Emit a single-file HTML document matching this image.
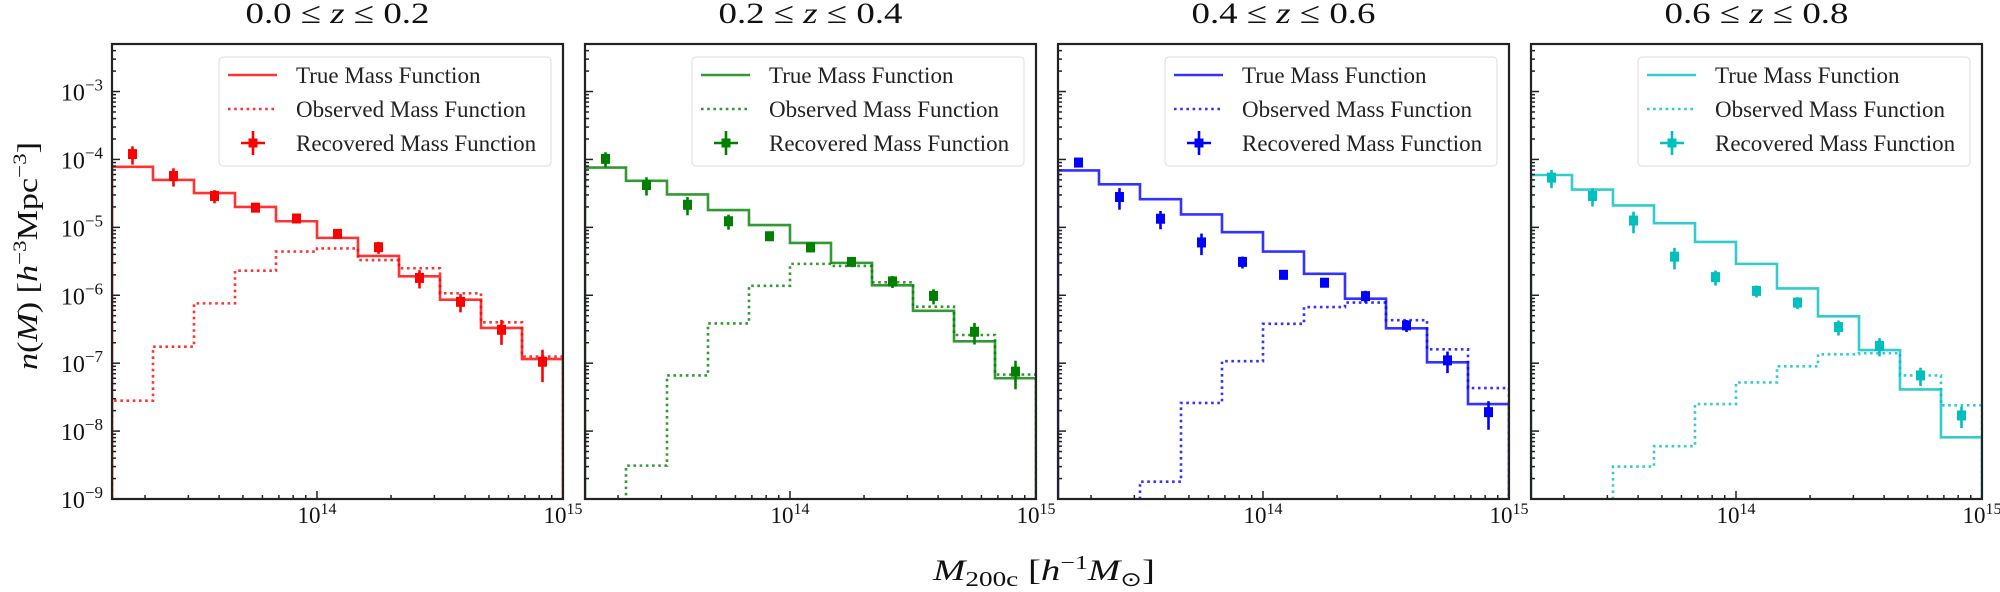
<!DOCTYPE html>
<html><head><meta charset="utf-8"><style>
html,body{margin:0;padding:0;background:#fff;}
svg{display:block;font-family:"Liberation Serif",serif;}
</style></head><body>
<svg id="chart" width="2000" height="592" viewBox="0 0 2000 592" xmlns="http://www.w3.org/2000/svg">
<text x="37" y="256" transform="rotate(-90 37 256)" text-anchor="middle" font-size="28" textLength="228" lengthAdjust="spacingAndGlyphs" fill="#111"><tspan font-style="italic">n</tspan>(<tspan font-style="italic">M</tspan>)   [<tspan font-style="italic">h</tspan><tspan font-size="19" dy="-11">−3</tspan><tspan dy="11">Mpc</tspan><tspan font-size="19" dy="-11">−3</tspan><tspan dy="11">]</tspan></text>
<text x="1044" y="580" text-anchor="middle" font-size="30" fill="#111" textLength="222" lengthAdjust="spacingAndGlyphs"><tspan font-style="italic">M</tspan><tspan font-size="21" dy="6">200c</tspan><tspan dy="-6">   [</tspan><tspan font-style="italic">h</tspan><tspan font-size="20" dy="-11">−1</tspan><tspan font-style="italic" dy="11">M</tspan><tspan font-size="20" dy="6">⊙</tspan><tspan dy="-6">]</tspan></text>
</svg>
<script>
// ----- data -----
const panelTitles = ["0.0 ≤ z ≤ 0.2","0.2 ≤ z ≤ 0.4","0.4 ≤ z ≤ 0.6","0.6 ≤ z ≤ 0.8"];
const panelColors = ["#ff0000","#008000","#0000ff","#00bfbf"];
const binEdgesLog = [13.1667,13.3333,13.5,13.6667,13.8333,14.0,14.1667,14.3333,14.5,14.6667,14.8333,15.0];
const trueZ1 = [7.8e-5,5e-5,3.2e-5,2e-5,1.23e-5,7e-6,3.8e-6,1.9e-6,8.6e-7,3.3e-7,1.15e-7];
const obsZ1  = [2.8e-8,1.75e-7,7.6e-7,2.3e-6,4.4e-6,4.9e-6,3.3e-6,2.5e-6,1.07e-6,4e-7,1.25e-7];
const recZ1  = [1.2e-4,5.7e-5,2.9e-5,1.95e-5,1.35e-5,8e-6,5.1e-6,1.8e-6,8e-7,3.1e-7,1.05e-7];
const errZ1  = [0.3,0.3,0.22,0.15,0.15,0.15,0.2,0.3,0.3,0.4,0.5];
const trueZ2 = [7.6e-5,4.85e-5,3.05e-5,1.8e-5,1.08e-5,5.9e-6,3e-6,1.4e-6,5.9e-7,2.1e-7,6e-8];
const obsZ2  = [0,3.1e-9,6.6e-8,3.85e-7,1.38e-6,2.9e-6,2.7e-6,1.55e-6,6.8e-7,2.6e-7,6.8e-8];
const recZ2  = [1.02e-4,4.2e-5,2.15e-5,1.23e-5,7.4e-6,5.06e-6,3.1e-6,1.6e-6,9.8e-7,2.9e-7,7.5e-8];
const errZ2  = [0.25,0.3,0.3,0.25,0.15,0.12,0.12,0.2,0.25,0.35,0.45];
const trueZ3 = [6.9e-5,4.3e-5,2.6e-5,1.55e-5,8.5e-6,4.4e-6,2.07e-6,8.9e-7,3.26e-7,1.03e-7,2.5e-8];
const obsZ3  = [0,0,1.8e-9,2.6e-8,1.07e-7,3.8e-7,6.7e-7,7.8e-7,4.3e-7,1.6e-7,4.3e-8];
const recZ3  = [9e-5,2.8e-5,1.34e-5,6e-6,3.1e-6,2e-6,1.53e-6,9.7e-7,3.6e-7,1.1e-7,1.9e-8];
const errZ3  = [0.15,0.35,0.3,0.35,0.2,0.15,0.15,0.2,0.2,0.35,0.45];
const trueZ4 = [5.9e-5,3.6e-5,2.1e-5,1.15e-5,6.1e-6,2.9e-6,1.26e-6,4.9e-7,1.56e-7,4.1e-8,8.1e-9];
const obsZ4  = [0,0,3e-9,6e-9,2.5e-8,5.2e-8,9e-8,1.35e-7,1.4e-7,6.6e-8,2.4e-8];
const recZ4  = [5.4e-5,2.9e-5,1.26e-5,3.7e-6,1.85e-6,1.16e-6,7.8e-7,3.4e-7,1.8e-7,6.6e-8,1.7e-8];
const errZ4  = [0.3,0.3,0.35,0.35,0.25,0.2,0.2,0.25,0.3,0.3,0.35];
const yTickExps = [-3,-4,-5,-6,-7,-8,-9];
const xTickExps = [14,15];
const legendLabels = ["True Mass Function","Observed Mass Function","Recovered Mass Function"];

const trueSeries=[trueZ1,trueZ2,trueZ3,trueZ4], obsSeries=[obsZ1,obsZ2,obsZ3,obsZ4], recSeries=[recZ1,recZ2,recZ3,recZ4], errSeries=[errZ1,errZ2,errZ3,errZ4];

// ----- layout -----
const NS="http://www.w3.org/2000/svg";
const svg=document.getElementById('chart');
const TOP=44, BOT=499, PW=451, LEFTS=[112,585,1058,1531];
const yMinLog=-9, yMaxLog=-2.3, xMinLog=13.1667, xMaxLog=15;
function yOf(v){ if(!(v>0)) return BOT+5; return TOP+(yMaxLog-Math.log10(v))/(yMaxLog-yMinLog)*(BOT-TOP); }
function xOf(left,lg){ return left+(lg-xMinLog)/(xMaxLog-xMinLog)*PW; }
function mk(tag,attrs,parent){ const e=document.createElementNS(NS,tag); for(const k in attrs) e.setAttribute(k,attrs[k]); (parent||svg).appendChild(e); return e; }

const defs=mk('defs',{});
LEFTS.forEach((L,p)=>{
  const cp=mk('clipPath',{id:'clip'+p},defs);
  mk('rect',{x:L,y:TOP,width:PW,height:BOT-TOP},cp);
});

function stepPath(L,vals){
  let d='M'+xOf(L,binEdgesLog[0])+','+(BOT+5);
  for(let i=0;i<vals.length;i++){
    const y=yOf(vals[i]);
    d+=' L'+xOf(L,binEdgesLog[i])+','+y+' L'+xOf(L,binEdgesLog[i+1])+','+y;
  }
  d+=' L'+xOf(L,binEdgesLog[binEdgesLog.length-1])+','+(BOT+5);
  return d;
}

LEFTS.forEach((L,p)=>{
  const col=panelColors[p];
  const g=mk('g',{});
  
  

  const title=mk('text',{x:L+PW/2,y:23,'text-anchor':'middle','font-size':30,fill:'#111',textLength:184,lengthAdjust:'spacingAndGlyphs'},g);
  
  
  const parts=panelTitles[p].split('z');
  title.appendChild(document.createTextNode(parts[0]));
  const zi=mk('tspan',{'font-style':'italic'},title); zi.textContent='z';
  title.appendChild(document.createTextNode(parts[1]));

  const cg=mk('g',{'clip-path':'url(#clip'+p+')'},g);
  const tl=mk('path',{d:stepPath(L,trueSeries[p]),fill:'none',stroke:col,'stroke-width':2.6,'stroke-opacity':0.8},cg);
  
  
  const ol=mk('path',{d:stepPath(L,obsSeries[p]),fill:'none',stroke:col,'stroke-width':2.6,'stroke-opacity':0.8,'stroke-dasharray':'2.6 3.6'},cg);
  
  

  recSeries[p].forEach((v,i)=>{
    const cx=xOf(L,(binEdgesLog[i]+binEdgesLog[i+1])/2), cy=yOf(v), e=errSeries[p][i];
    const pg=mk('g',{},cg);
    
    
    mk('line',{x1:cx,x2:cx,y1:yOf(v*(1+e)),y2:yOf(v*(1-e)),stroke:col,'stroke-width':2.6},pg);
    mk('rect',{x:cx-4.5,y:cy-5,width:9,height:10,fill:col},pg);
  });

  // ticks
  const tg=mk('g',{stroke:'#222','stroke-width':1.5},g);
  for(let e=-9;e<=-3;e++){
    for(let m=1;m<=9;m++){
      const y=yOf(m*Math.pow(10,e));
      if(y<TOP||y>BOT) continue;
      mk('line',{x1:L,x2:L+(m===1?8:4),y1:y,y2:y},tg);
    }
  }
  for(let e=13;e<=15;e++){
    for(let m=1;m<=9;m++){
      const lg=e+Math.log10(m); if(lg<xMinLog||lg>xMaxLog) continue;
      const x=xOf(L,lg);
      mk('line',{x1:x,x2:x,y1:BOT,y2:BOT-(m===1?8:4)},tg);
    }
  }
  xTickExps.forEach(ex=>{
    const t=mk('text',{x:xOf(L,ex),y:523,'text-anchor':'middle','font-size':23,fill:'#111'},g);
    
    
    t.appendChild(document.createTextNode('10'));
    const s=mk('tspan',{'font-size':16,dy:-9},t); s.textContent=String(ex);
  });
  if(p===0){
    yTickExps.forEach(ex=>{
      const t=mk('text',{x:L-9,y:yOf(Math.pow(10,ex))+9,'text-anchor':'end','font-size':24,fill:'#111'},g);
      
      
      t.appendChild(document.createTextNode('10'));
      const s=mk('tspan',{'font-size':17,dy:-10},t); s.textContent='−'+String(-ex);
    });
  }
  const fr=mk('rect',{x:L,y:TOP,width:PW,height:BOT-TOP,fill:'none',stroke:'#222','stroke-width':2.2},g);
  
  

  // legend
  const lx=L+PW-12-332, ly=57;
  const lg=mk('g',{},g);
  
  
  mk('rect',{x:lx,y:ly,width:332,height:109,rx:4,fill:'#fff','fill-opacity':0.85,stroke:'#dcdcdc','stroke-width':1},lg);
  const rows=[75,109,143];
  legendLabels.forEach((lab,k)=>{
    const eg=mk('g',{},lg);
    
    
    const yy=rows[k];
    if(k===0) mk('line',{x1:lx+9,x2:lx+58,y1:yy,y2:yy,stroke:col,'stroke-width':2.6,'stroke-opacity':0.8},eg);
    if(k===1) mk('line',{x1:lx+9,x2:lx+58,y1:yy,y2:yy,stroke:col,'stroke-width':2.6,'stroke-opacity':0.8,'stroke-dasharray':'2.6 3.6'},eg);
    if(k===2){
      mk('line',{x1:lx+22,x2:lx+46,y1:yy,y2:yy,stroke:col,'stroke-width':2.6},eg);
      mk('line',{x1:lx+34,x2:lx+34,y1:yy-12,y2:yy+12,stroke:col,'stroke-width':2.6},eg);
      mk('rect',{x:lx+29.5,y:yy-4.5,width:9,height:9,fill:col},eg);
    }
    const t=mk('text',{x:lx+77,y:yy+8,'font-size':23,fill:'#222'},eg);
    t.textContent=lab;
  });
});
</script>
</body></html>
